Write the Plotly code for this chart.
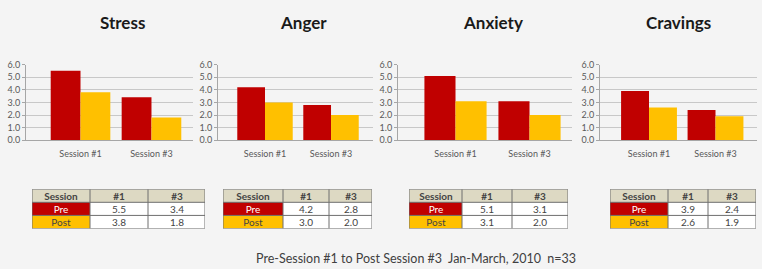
import plotly.graph_objects as go

# ---------------- data ----------------
categories = ["Session #1", "Session #3"]
measures = ["Stress", "Anger", "Anxiety", "Cravings"]

stress_pre = [5.5, 3.4]
stress_post = [3.8, 1.8]
anger_pre = [4.2, 2.8]
anger_post = [3.0, 2.0]
anxiety_pre = [5.1, 3.1]
anxiety_post = [3.1, 2.0]
cravings_pre = [3.9, 2.4]
cravings_post = [2.6, 1.9]

table_header = ["Session", "#1", "#3"]
row_labels = ["Pre", "Post"]
y_ticks = [0, 1, 2, 3, 4, 5, 6]
footer = "Pre-Session #1 to Post Session #3  Jan-March, 2010  n=33"

pre_series = [stress_pre, anger_pre, anxiety_pre, cravings_pre]
post_series = [stress_post, anger_post, anxiety_post, cravings_post]

# ---------------- layout (pixels) ----------------
W, H = 762, 269
RED = "#c00000"
GOLD = "#ffc000"
BEIGE = "#ddd9c3"
WHITE = "#ffffff"
BG = "#f4f4f4"
FONT = "Lato, 'Open Sans', sans-serif"
GRID_LINE = "#6e6e6e"

plot_x = [(26, 193), (218, 373), (398, 572), (600, 757)]
x_ranges = [(-0.768, 1.585), (-0.712, 1.636), (-0.777, 1.574), (-0.737, 1.624)]
title_x = [122, 303, 493, 678]
plot_top, plot_bot = 61, 140

table_x = [(32, 205), (223, 372), (409, 568), (610, 756)]
table_cols = [[58, 58, 57], [60, 46, 43], [53, 50, 56], [58, 40, 48]]
table_top, table_bot = 191, 232

# colour codes for table cells: 0 header, 1 pre, 2 post, 3 plain
cell_scale = [[0, BEIGE], [0.25, BEIGE], [0.25, RED], [0.5, RED],
              [0.5, GOLD], [0.75, GOLD], [0.75, WHITE], [1, WHITE]]
cell_codes = [[0, 0, 0], [1, 3, 3], [2, 3, 3]]


def px(x):
    return x / W


def py(y):
    return 1 - y / H


fig = go.Figure()
layout = dict(
    width=W, height=H,
    margin=dict(l=0, r=0, t=0, b=0),
    paper_bgcolor=BG, plot_bgcolor=BG,
    showlegend=False,
    barmode="group", bargap=0.16, bargroupgap=0,
    font=dict(family=FONT, color="#595959"),
    annotations=[], shapes=[],
)

for i, name in enumerate(measures):
    ax = "" if i == 0 else str(i + 1)
    fig.add_trace(go.Bar(x=categories, y=pre_series[i], name="Pre",
                         marker=dict(color=RED, line=dict(width=0)),
                         xaxis="x" + ax, yaxis="y" + ax))
    fig.add_trace(go.Bar(x=categories, y=post_series[i], name="Post",
                         marker=dict(color=GOLD, line=dict(width=0)),
                         xaxis="x" + ax, yaxis="y" + ax))
    layout["xaxis" + ax] = dict(
        domain=[px(plot_x[i][0]), px(plot_x[i][1])],
        anchor="y" + ax, type="category", range=list(x_ranges[i]),
        showline=True, linecolor="#a6a6a6", linewidth=1,
        showgrid=False, ticks="", ticklabelstandoff=5,
        tickfont=dict(size=9, color="#595959"),
        fixedrange=True,
    )
    layout["yaxis" + ax] = dict(
        domain=[py(plot_bot), py(plot_top)],
        anchor="x" + ax, range=[0, 6], tickvals=y_ticks, tickformat=".1f",
        showline=True, linecolor="#a6a6a6", linewidth=1,
        ticks="outside", ticklen=3, tickcolor="#a6a6a6",
        showgrid=True, gridcolor="#c8c8c8", gridwidth=1,
        zeroline=False, tickfont=dict(size=9, color="#595959"),
        fixedrange=True,
    )
    layout["annotations"].append(dict(
        text="<b>%s</b>" % name, x=px(title_x[i]), y=py(17),
        xref="paper", yref="paper", showarrow=False,
        xanchor="center", yanchor="middle",
        font=dict(size=17, color="#1a1a1a", family=FONT),
    ))

    # ---- summary table drawn as a heatmap grid ----
    pre = pre_series[i]
    post = post_series[i]
    cell_text = [
        ["<b>%s</b>" % h for h in table_header],
        [row_labels[0], "%.1f" % pre[0], "%.1f" % pre[1]],
        [row_labels[1], "%.1f" % post[0], "%.1f" % post[1]],
    ]
    widths = table_cols[i]
    edges = [0]
    for w in widths:
        edges.append(edges[-1] + w)
    tax = str(i + 5)
    fig.add_trace(go.Heatmap(
        z=cell_codes, x=edges, y=[0, 1, 2, 3],
        text=cell_text, texttemplate="%{text}",
        textfont=dict(size=10, family=FONT),
        colorscale=cell_scale, zmin=0, zmax=3, showscale=False,
        hoverinfo="skip", xaxis="x" + tax, yaxis="y" + tax,
    ))
    layout["xaxis" + tax] = dict(
        domain=[px(table_x[i][0]), px(table_x[i][1])], anchor="y" + tax,
        range=[0, edges[-1]], visible=False, fixedrange=True,
    )
    layout["yaxis" + tax] = dict(
        domain=[py(table_bot), py(table_top)], anchor="x" + tax,
        range=[3, 0], visible=False, fixedrange=True,
    )
    for e in edges:
        layout["shapes"].append(dict(
            type="line", xref="x" + tax, yref="y" + tax,
            x0=e, x1=e, y0=0, y1=3, line=dict(color=GRID_LINE, width=1)))
    for r in range(4):
        layout["shapes"].append(dict(
            type="line", xref="x" + tax, yref="y" + tax,
            x0=0, x1=edges[-1], y0=r, y1=r, line=dict(color=GRID_LINE, width=1)))

layout["annotations"].append(dict(
    text=footer, x=px(416), y=py(263), xref="paper", yref="paper",
    showarrow=False, xanchor="center", yanchor="middle",
    font=dict(size=12.5, color="#404040", family=FONT),
))

fig.update_layout(**layout)
fig.write_html(
    "out.html",
    config={"displayModeBar": False},
    post_script="document.body.style.margin='0';document.body.style.overflow='hidden';",
)
